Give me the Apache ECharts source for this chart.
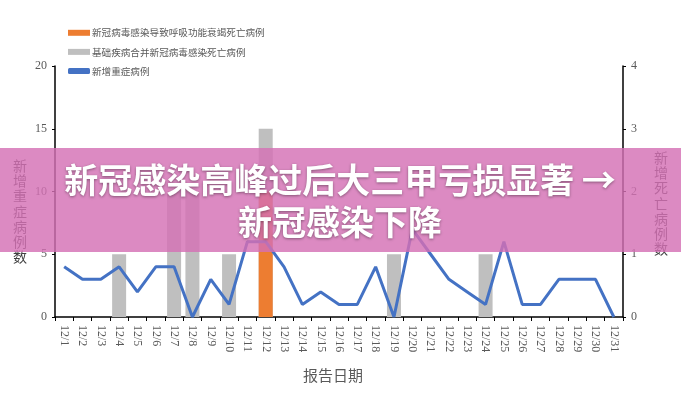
<!DOCTYPE html>
<html><head><meta charset="utf-8">
<script src="https://cdn.jsdelivr.net/npm/echarts@6/dist/echarts.min.js"></script>
<style>html,body{margin:0;padding:0;background:#fff}#c{width:681px;height:400px}</style>
</head><body><div id="c"></div>
<script>
const categories = ['12/1','12/2','12/3','12/4','12/5','12/6','12/7','12/8','12/9','12/10','12/11','12/12','12/13','12/14','12/15','12/16','12/17','12/18','12/19','12/20','12/21','12/22','12/23','12/24','12/25','12/26','12/27','12/28','12/29','12/30','12/31'];
const severeCases = [4,3,3,4,2,4,4,0,3,1,6,6,4,1,2,1,1,4,0,7,5,3,2,1,6,1,1,3,3,3,0];
const comorbidDeaths = [0,0,0,1,0,0,2,2,0,1,0,3,0,0,0,0,0,0,1,0,0,0,0,1,0,0,0,0,0,0,0];
const respiratoryDeaths = [0,0,0,0,0,0,0,0,0,0,0,2,0,0,0,0,0,0,0,0,0,0,0,0,0,0,0,0,0,0,0];
const leftTicks = [0,5,10,15,20];
const rightTicks = [0,1,2,3,4];
const names = ['新冠病毒感染导致呼吸功能衰竭死亡病例','基础疾病合并新冠病毒感染死亡病例','新增重症病例'];

const serif = '"Liberation Serif", "DejaVu Serif", serif';
const cjk = '"Noto Sans CJK SC", sans-serif';
const chart = echarts.init(document.getElementById('c'));
chart.setOption({
  animation: false,
  grid: {left: 55, right: 58, top: 66, bottom: 83},
  legend: {
    orient: 'vertical', left: 63, top: 23, itemGap: 9.5,
    itemWidth: 22, itemHeight: 6,
    textStyle: {fontFamily: cjk, fontSize: 9.6, color: '#595959', padding: [0,0,0,-3]},
    data: [
      {name: names[0], icon: 'rect'},
      {name: names[1], icon: 'rect'},
      {name: names[2], icon: 'roundRect'}
    ]
  },
  xAxis: {
    type: 'category', data: categories, boundaryGap: true,
    axisLine: {lineStyle: {color: '#000', width: 1.5}},
    axisTick: {show: true, length: 4, lineStyle: {color: '#000'}, interval: 0},
    axisLabel: {rotate: -90, interval: 0, fontFamily: serif, fontSize: 12, color: '#595959', margin: 8}
  },
  yAxis: [
    {
      type: 'value', min: leftTicks[0], max: leftTicks[leftTicks.length-1], interval: 5,
      splitLine: {show: false},
      axisLine: {show: true, lineStyle: {color: '#000', width: 1.5}},
      axisTick: {show: true, length: 3, lineStyle: {color: '#000'}},
      axisLabel: {fontFamily: serif, fontSize: 12, color: '#595959', margin: 8}
    },
    {
      type: 'value', min: rightTicks[0], max: rightTicks[rightTicks.length-1], interval: 1,
      position: 'right', splitLine: {show: false},
      axisLine: {show: true, lineStyle: {color: '#000', width: 1.5}},
      axisTick: {show: true, length: 3, lineStyle: {color: '#000'}},
      axisLabel: {fontFamily: serif, fontSize: 12, color: '#595959', margin: 8}
    }
  ],
  series: [
    {name: names[1], type: 'bar', yAxisIndex: 1, data: comorbidDeaths, barWidth: 14, barGap: '-100%',
     itemStyle: {color: '#bfbfbf'}, z: 2},
    {name: names[0], type: 'bar', yAxisIndex: 1, data: respiratoryDeaths, barWidth: 14, barGap: '-100%',
     itemStyle: {color: '#ed7d31'}, z: 3},
    {name: names[2], type: 'line', yAxisIndex: 0, data: severeCases, symbol: 'none',
     lineStyle: {color: '#4472c4', width: 3}, itemStyle: {color: '#4472c4'}, z: 4}
  ],
  graphic: [
    {type: 'text', left: 13, top: 158, z: 5,
     style: {text: '新\n增\n重\n症\n病\n例\n数', fontFamily: cjk, fontSize: 14, lineHeight: 15.2, fill: '#404040'}},
    {type: 'text', left: 654, top: 150, z: 5,
     style: {text: '新\n增\n死\n亡\n病\n例\n数', fontFamily: cjk, fontSize: 14, lineHeight: 15.2, fill: '#404040'}},
    {type: 'text', x: 333, y: 375, z: 5,
     style: {text: '报告日期', fontFamily: cjk, fontSize: 15, fill: '#595959', textAlign: 'center', textVerticalAlign: 'middle'}},
    {type: 'rect', z: 100, shape: {x: 0, y: 148, width: 681, height: 104},
     style: {fill: 'rgba(212,112,180,0.82)'}},
    {type: 'text', x: 340, y: 180, z: 101,
     style: {text: '新冠感染高峰过后大三甲亏损显著 →', fontFamily: cjk, fontWeight: 'bold', fontSize: 34,
             fill: '#fff', textAlign: 'center', textVerticalAlign: 'middle',
             textShadowColor: 'rgba(0,0,0,0.4)', textShadowBlur: 3, textShadowOffsetY: 1}},
    {type: 'text', x: 340, y: 222, z: 101,
     style: {text: '新冠感染下降', fontFamily: cjk, fontWeight: 'bold', fontSize: 34,
             fill: '#fff', textAlign: 'center', textVerticalAlign: 'middle',
             textShadowColor: 'rgba(0,0,0,0.4)', textShadowBlur: 3, textShadowOffsetY: 1}}
  ]
});
</script></body></html>
